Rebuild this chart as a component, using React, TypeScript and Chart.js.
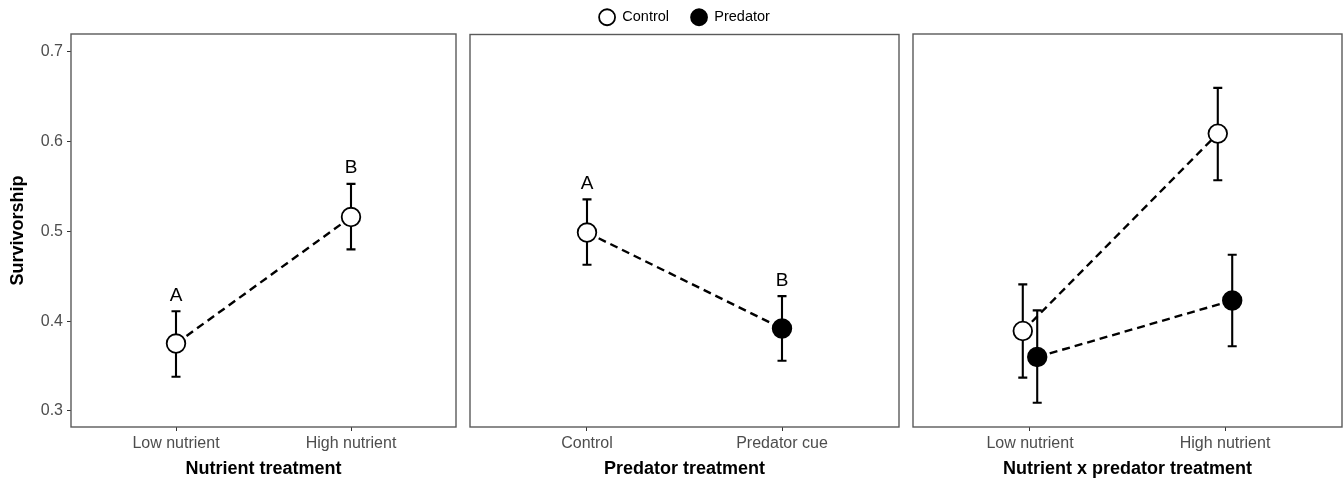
import React, { useEffect, useRef } from 'react';
import { Chart, registerables } from 'chart.js';

Chart.register(...registerables);

const FONT = "'Liberation Sans', Arial, Helvetica, sans-serif";

// ---------- data ----------
const nutrientCategories = ['Low nutrient', 'High nutrient'];
const predatorCategories = ['Control', 'Predator cue'];
const comboCategories = ['Low nutrient', 'High nutrient'];
const seriesNames = ['Control', 'Predator'];

const nutrientMean = [0.375, 0.516];
const nutrientLower = [0.338, 0.480];
const nutrientUpper = [0.411, 0.553];
const nutrientLetters = ['A', 'B'];

const predatorMean = [0.499, 0.392];
const predatorLower = [0.463, 0.356];
const predatorUpper = [0.536, 0.428];
const predatorLetters = ['A', 'B'];

const comboControlMean = [0.389, 0.609];
const comboControlLower = [0.337, 0.557];
const comboControlUpper = [0.441, 0.660];
const comboPredatorMean = [0.360, 0.423];
const comboPredatorLower = [0.309, 0.372];
const comboPredatorUpper = [0.412, 0.474];

const yTicks = [0.3, 0.4, 0.5, 0.6, 0.7];
const yMin = 0.282;
const yMax = 0.72;

const xTitles = ['Nutrient treatment', 'Predator treatment', 'Nutrient x predator treatment'];
const yTitle = 'Survivorship';

// ---------- helpers ----------
const DODGE = 0.037;
const TICK_COLOR = '#4d4d4d';

function pts(xs: number[], ys: number[]) {
  return xs.map((x, i) => ({ x, y: ys[i] }));
}

const errorBarPlugin = {
  id: 'errorBars',
  beforeDatasetsDraw(chart: any) {
    const ctx = chart.ctx;
    const xs = chart.scales.x;
    const ys = chart.scales.y;
    ctx.save();
    ctx.strokeStyle = '#000';
    ctx.lineWidth = 2.1;
    ctx.setLineDash([]);
    chart.data.datasets.forEach((ds: any) => {
      if (!ds.errLow) return;
      ds.data.forEach((p: any, j: number) => {
        const px = xs.getPixelForValue(p.x);
        const lo = ys.getPixelForValue(ds.errLow[j]);
        const hi = ys.getPixelForValue(ds.errHigh[j]);
        ctx.beginPath();
        ctx.moveTo(px, lo);
        ctx.lineTo(px, hi);
        ctx.moveTo(px - 4.5, lo);
        ctx.lineTo(px + 4.5, lo);
        ctx.moveTo(px - 4.5, hi);
        ctx.lineTo(px + 4.5, hi);
        ctx.stroke();
      });
    });
    ctx.restore();
  },
  afterDatasetsDraw(chart: any) {
    const ctx = chart.ctx;
    const xs = chart.scales.x;
    const ys = chart.scales.y;
    ctx.save();
    ctx.fillStyle = '#000';
    ctx.font = `19px ${FONT}`;
    ctx.textAlign = 'center';
    ctx.textBaseline = 'alphabetic';
    chart.data.datasets.forEach((ds: any) => {
      if (!ds.letters) return;
      ds.data.forEach((p: any, j: number) => {
        const px = xs.getPixelForValue(p.x);
        const hi = ys.getPixelForValue(ds.errHigh[j]);
        ctx.fillText(ds.letters[j], px, hi - 10.5);
      });
    });
    ctx.restore();
  },
  afterDraw(chart: any) {
    const { left, top, right, bottom } = chart.chartArea;
    const ctx = chart.ctx;
    ctx.save();
    ctx.strokeStyle = '#5a5a5a';
    ctx.lineWidth = 1.4;
    ctx.setLineDash([]);
    ctx.strokeRect(left, top, right - left, bottom - top);
    ctx.restore();
  },
};

function makeScales(title: string, categories: string[], showY: boolean) {
  const grid = {
    display: true,
    drawOnChartArea: false,
    drawTicks: true,
    tickLength: 4,
    color: '#333',
    lineWidth: 1,
  };
  return {
    x: {
      type: 'linear',
      min: 0.4,
      max: 2.6,
      afterBuildTicks: (s: any) => {
        s.ticks = categories.map((_, i) => ({ value: i + 1 }));
      },
      afterFit: (s: any) => {
        s.height = 54;
        s.paddingLeft = 0;
        s.paddingRight = 0;
      },
      ticks: {
        callback: (v: any) => categories[Math.round(Number(v)) - 1] ?? '',
        font: { family: FONT, size: 16 },
        color: TICK_COLOR,
        padding: 3,
        maxRotation: 0,
        autoSkip: false,
      },
      grid,
      border: { display: false },
      title: {
        display: true,
        text: title,
        font: { family: FONT, size: 18, weight: 'bold' },
        color: '#000',
        padding: { top: 1, bottom: 1 },
      },
    },
    y: {
      type: 'linear',
      display: showY,
      min: yMin,
      max: yMax,
      afterBuildTicks: (s: any) => {
        s.ticks = yTicks.map((v) => ({ value: v }));
      },
      afterFit: (s: any) => {
        s.width = showY ? 71 : 0;
        s.paddingTop = 0;
        s.paddingBottom = 0;
      },
      ticks: {
        callback: (v: any) => Number(v).toFixed(1),
        font: { family: FONT, size: 16 },
        color: TICK_COLOR,
        padding: 4,
      },
      grid,
      border: { display: false },
      title: {
        display: true,
        text: yTitle,
        font: { family: FONT, size: 18, weight: 'bold' },
        color: '#000',
        padding: { top: 7, bottom: 0 },
      },
    },
  };
}

const pointOpen = {
  pointRadius: 9.3,
  pointBorderWidth: 1.8,
  pointBorderColor: '#000',
  pointBackgroundColor: '#fff',
  pointStyle: 'circle',
};
const pointFilled = {
  pointRadius: 9.3,
  pointBorderWidth: 1.8,
  pointBorderColor: '#000',
  pointBackgroundColor: '#000',
  pointStyle: 'circle',
};
const dashLine = {
  borderColor: '#000',
  borderWidth: 2.4,
  borderDash: [8, 5],
  tension: 0,
  fill: false,
};

const LEGEND_BOX = 11.3;

function baseOptions(scales: any, padding: any, legend: boolean) {
  return {
    responsive: false,
    animation: false,
    events: [],
    layout: { padding, autoPadding: false },
    scales,
    plugins: {
      tooltip: { enabled: false },
      legend: legend
        ? {
            display: true,
            position: 'top',
            labels: {
              usePointStyle: true,
              boxHeight: LEGEND_BOX,
              boxWidth: LEGEND_BOX * Math.SQRT2,
              pointStyleWidth: LEGEND_BOX * Math.SQRT2,
              padding: 22,
              color: '#000',
              font: { family: FONT, size: 14.5 },
              filter: (item: any) => seriesNames.includes(item.text),
            },
          }
        : { display: false },
    },
  };
}

function config1() {
  const xs = nutrientCategories.map((_, i) => i + 1);
  return {
    type: 'line',
    data: {
      datasets: [
        {
          label: 'Overall',
          data: pts(xs, nutrientMean),
          errLow: nutrientLower,
          errHigh: nutrientUpper,
          letters: nutrientLetters,
          ...dashLine,
          ...pointOpen,
        },
      ],
    },
    options: baseOptions(makeScales(xTitles[0], nutrientCategories, true), { left: 0, right: 6, top: 34, bottom: 0 }, false),
    plugins: [errorBarPlugin],
  };
}

function config2() {
  const xs = predatorCategories.map((_, i) => i + 1);
  return {
    type: 'line',
    data: {
      datasets: [
        {
          label: seriesNames[0],
          data: pts([xs[0]], [predatorMean[0]]),
          errLow: [predatorLower[0]],
          errHigh: [predatorUpper[0]],
          letters: [predatorLetters[0]],
          showLine: false,
          borderColor: '#000',
          ...pointOpen,
        },
        {
          label: seriesNames[1],
          data: pts([xs[1]], [predatorMean[1]]),
          errLow: [predatorLower[1]],
          errHigh: [predatorUpper[1]],
          letters: [predatorLetters[1]],
          showLine: false,
          borderColor: '#000',
          ...pointFilled,
        },
        {
          label: '',
          data: pts(xs, predatorMean),
          ...dashLine,
          pointRadius: 0,
        },
      ],
    },
    options: baseOptions(makeScales(xTitles[1], predatorCategories, false), { left: 8, right: 10, top: -12, bottom: 0 }, true),
    plugins: [errorBarPlugin],
  };
}

function config3() {
  const xs = comboCategories.map((_, i) => i + 1);
  return {
    type: 'line',
    data: {
      datasets: [
        {
          label: seriesNames[0],
          data: pts(xs.map((x) => x - DODGE), comboControlMean),
          errLow: comboControlLower,
          errHigh: comboControlUpper,
          ...dashLine,
          ...pointOpen,
        },
        {
          label: seriesNames[1],
          data: pts(xs.map((x) => x + DODGE), comboPredatorMean),
          errLow: comboPredatorLower,
          errHigh: comboPredatorUpper,
          ...dashLine,
          ...pointFilled,
        },
      ],
    },
    options: baseOptions(makeScales(xTitles[2], comboCategories, false), { left: 7, right: 2, top: 34, bottom: 0 }, false),
    plugins: [errorBarPlugin],
  };
}

function Panel({ left, width, make }: { left: number; width: number; make: () => any }) {
  const ref = useRef<HTMLCanvasElement | null>(null);
  useEffect(() => {
    if (!ref.current) return;
    const chart = new Chart(ref.current, make());
    return () => chart.destroy();
  }, [make]);
  return (
    <canvas
      ref={ref}
      width={width}
      height={481}
      style={{ position: 'absolute', left, top: 0, width, height: 481 }}
    />
  );
}

export default function App() {
  return (
    <div
      style={{
        position: 'absolute',
        left: 0,
        top: 0,
        width: 1344,
        height: 481,
        background: '#fff',
        overflow: 'hidden',
      }}
    >
      <Panel left={0} width={462} make={config1} />
      <Panel left={462} width={447} make={config2} />
      <Panel left={906} width={438} make={config3} />
    </div>
  );
}
